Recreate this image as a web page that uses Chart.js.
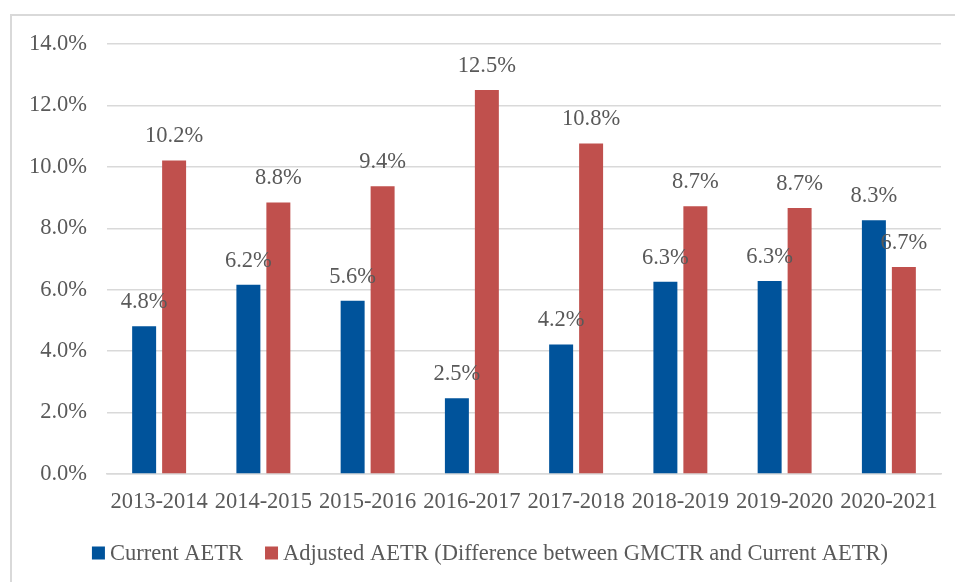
<!DOCTYPE html>
<html>
<head>
<meta charset="utf-8">
<script src="https://cdn.jsdelivr.net/npm/chart.js@4"></script>
<style>
  html, body { margin: 0; padding: 0; background: #fff; overflow: hidden; }
  #wrap { position: relative; width: 955px; height: 582px; }
  #frame { position: absolute; left: 10px; top: 14px; width: 980px; height: 600px; border: 2px solid #d9d9d9; box-sizing: border-box; }
  canvas { position: absolute; left: 0; top: 0; }
</style>
</head>
<body>
<div id="wrap">
  <div id="frame"></div>
  <canvas id="myChart" width="955" height="582"></canvas>
</div>
<script>
const years = ["2013-2014", "2014-2015", "2015-2016", "2016-2017", "2017-2018", "2018-2019", "2019-2020", "2020-2021"];
const currentAetr = [4.81, 6.16, 5.64, 2.47, 4.22, 6.26, 6.28, 8.26];
const adjustedAetr = [10.21, 8.84, 9.37, 12.5, 10.76, 8.72, 8.66, 6.74];
const yTicks = [0, 2, 4, 6, 8, 10, 12, 14];

const textColor = "#595959";
const fontFamily = "'Liberation Serif', 'Times New Roman', serif";
const fontSize = 22.5;
const gridColor = "#d9d9d9";

// value labels above each bar
const barLabels = {
  id: "barLabels",
  afterDatasetsDraw(chart) {
    const ctx = chart.ctx;
    ctx.save();
    ctx.font = fontSize + "px " + fontFamily;
    ctx.fillStyle = textColor;
    ctx.textAlign = "center";
    ctx.textBaseline = "middle";
    chart.data.datasets.forEach((ds, i) => {
      chart.getDatasetMeta(i).data.forEach((bar, j) => {
        ctx.fillText(ds.data[j].toFixed(1) + "%", bar.x, bar.y - 24);
      });
    });
    ctx.restore();
  },
};

// legend drawn by hand so it can sit off-centre like the original
const bottomLegend = {
  id: "bottomLegend",
  afterDraw(chart) {
    const ctx = chart.ctx;
    ctx.save();
    ctx.font = fontSize + "px " + fontFamily;
    ctx.textBaseline = "middle";
    const box = 13, gap = 5, between = 22, cy = 553, cx = 490;
    const items = chart.data.datasets.map((ds) => ({
      text: ds.label,
      color: ds.backgroundColor,
      w: ctx.measureText(ds.label).width,
    }));
    let total = 0;
    items.forEach((it, i) => {
      total += box + gap + it.w + (i ? between : 0);
    });
    let x = cx - total / 2;
    items.forEach((it) => {
      ctx.fillStyle = it.color;
      ctx.fillRect(x, cy - box / 2, box, box);
      ctx.fillStyle = textColor;
      ctx.fillText(it.text, x + box + gap, cy + 1);
      x += box + gap + it.w + between;
    });
    ctx.restore();
  },
};

const ctx = document.getElementById("myChart").getContext("2d");
const myChart = new Chart(ctx, {
  type: "bar",
  data: {
    labels: years,
    datasets: [
      {
        label: "Current AETR",
        data: currentAetr,
        backgroundColor: "#00539B",
      },
      {
        label: "Adjusted AETR (Difference between GMCTR and Current AETR)",
        data: adjustedAetr,
        backgroundColor: "#C0504D",
      },
    ],
  },
  options: {
    responsive: false,
    animation: false,
    categoryPercentage: 0.575,
    barPercentage: 0.8,
    layout: { padding: { left: 0, right: 14, top: 44, bottom: 59 } },
    plugins: {
      tooltip: { enabled: false },
      legend: { display: false },
    },
    scales: {
      x: {
        grid: { display: false },
        border: { color: gridColor, width: 1.5 },
        ticks: {
          color: textColor,
          padding: 7,
          maxRotation: 0,
          font: { family: fontFamily, size: fontSize },
        },
      },
      y: {
        min: 0,
        max: 14,
        afterBuildTicks: (axis) => {
          axis.ticks = yTicks.map((v) => ({ value: v }));
        },
        afterFit: (axis) => {
          axis.width = 107;
        },
        grid: { color: gridColor, lineWidth: 1.5, drawTicks: false },
        border: { display: false },
        ticks: {
          color: textColor,
          padding: 20,
          font: { family: fontFamily, size: fontSize },
          callback: (v) => v.toFixed(1) + "%",
        },
      },
    },
  },
  plugins: [barLabels, bottomLegend],
});
</script>
</body>
</html>
